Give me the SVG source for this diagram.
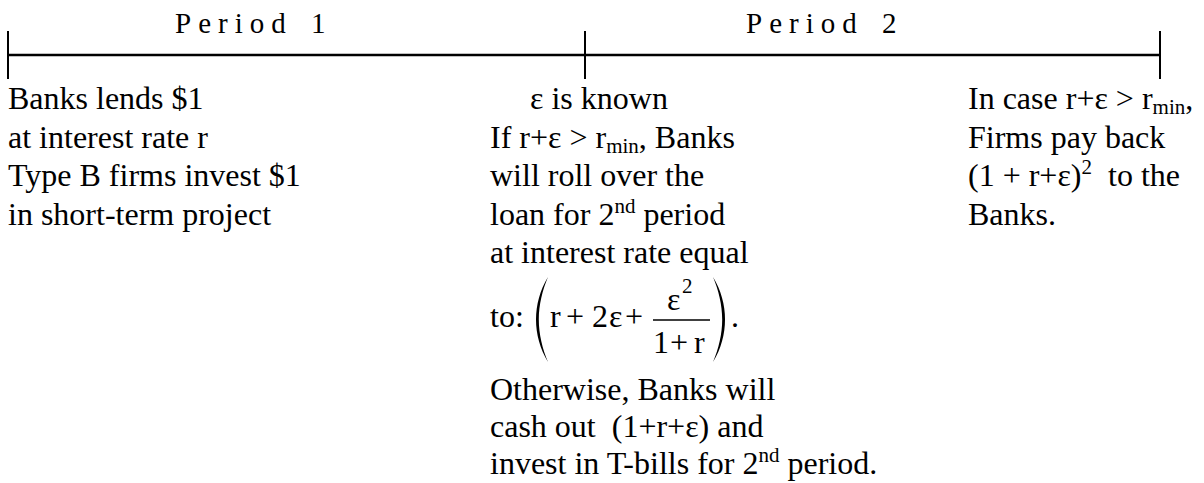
<svg xmlns="http://www.w3.org/2000/svg" width="1204" height="483" viewBox="0 0 1204 483">
<style>
text{font-family:"Liberation Serif","Times New Roman",serif;fill:#000;font-size:32px;white-space:pre}
.per{font-size:29px;letter-spacing:7px;word-spacing:4px}
.ax{stroke:#000;fill:none}
.sm{font-size:21px}
.paren{fill:#000;stroke:none}
</style>
<rect width="1204" height="483" fill="#fff"/>
<g id="connectors">
<line class="ax" x1="8" y1="55" x2="1160" y2="55" stroke-width="2.5" stroke="#222"/>
<line class="ax" x1="8" y1="31" x2="8" y2="79" stroke-width="2"/>
<line class="ax" x1="585" y1="31" x2="585" y2="79" stroke-width="2"/>
<line class="ax" x1="1160" y1="31" x2="1160" y2="79" stroke-width="2"/>
</g>
<g id="period1"><text class="per" x="175" y="33">Period 1</text></g>
<g id="period2"><text class="per" x="746" y="33">Period 2</text></g>
<g id="start">
<text x="8" y="109">Banks lends $1</text>
<text x="8" y="147.5">at interest rate r</text>
<text x="8" y="186">Type B firms invest $1</text>
<text x="8" y="224.5">in short-term project</text>
</g>
<g id="middle">
<text x="530" y="109">ε is known</text>
<text x="490" y="147.5">If r+ε &gt; r<tspan class="sm" dy="5">min</tspan><tspan dy="-5">, Banks</tspan></text>
<text x="490" y="186">will roll over the</text>
<text x="490" y="224.5">loan for 2<tspan class="sm" dy="-12">nd</tspan><tspan dy="12"> period</tspan></text>
<text x="490" y="262.5">at interest rate equal</text>
<g id="formula">
<text x="490" y="327">to:</text>
<path class="paren" d="M548,277 C540,290 536,305 536,319.5 C536,334 540,349 548,362 C542.5,349 538.8,334 538.8,319.5 C538.8,305 542.5,290 548,277 Z"/>
<text y="327" x="550 566 592 609 625">r+2ε+</text>
<text x="667" y="310">ε</text>
<text class="sm" x="682" y="293">2</text>
<line x1="653" y1="320" x2="710" y2="320" stroke="#000" stroke-width="1.5"/>
<text y="353" x="653 670 694">1+r</text>
<path class="paren" d="M713,277 C721,290 725,305 725,319.5 C725,334 721,349 713,362 C718.5,349 722.2,334 722.2,319.5 C722.2,305 718.5,290 713,277 Z"/>
<text x="731" y="327">.</text>
</g>
<text x="490" y="400">Otherwise, Banks will</text>
<text x="490" y="437">cash out  (1+r+ε) and</text>
<text x="490" y="474">invest in T-bills for 2<tspan class="sm" dy="-12">nd</tspan><tspan dy="12"> period.</tspan></text>
</g>
<g id="end">
<text x="968" y="109">In case r+ε &gt; r<tspan class="sm" dy="5">min</tspan><tspan dy="-5">,</tspan></text>
<text x="968" y="147.5">Firms pay back</text>
<text x="968" y="186">(1 + r+ε)<tspan class="sm" dy="-12">2</tspan><tspan dy="12">  to the</tspan></text>
<text x="968" y="224.5">Banks.</text>
</g>
</svg>
